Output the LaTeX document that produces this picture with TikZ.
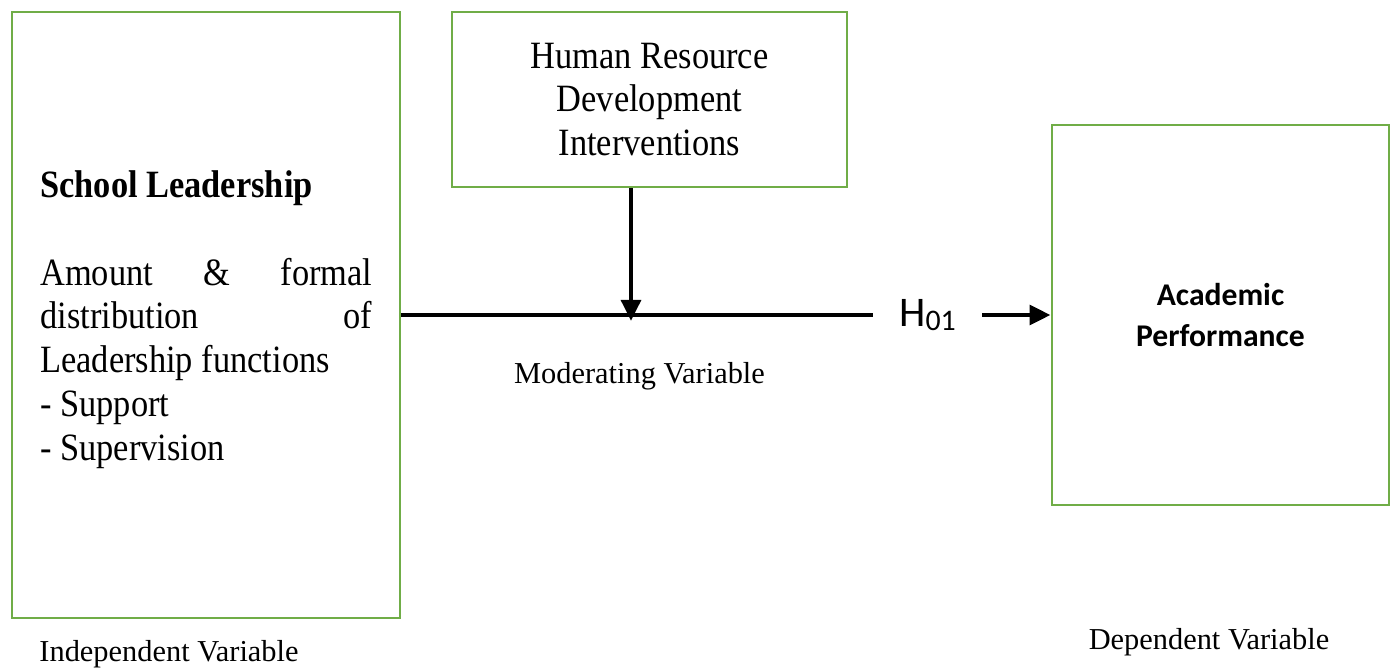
\documentclass[tikz,border=0pt]{standalone}
\usepackage{fontspec}
\setmainfont{Liberation Serif}[FakeStretch=0.89]
\newfontfamily\calibri{Carlito}
\newfontfamily\plainserif{Liberation Serif}
\usepackage{xcolor}
\usetikzlibrary{arrows.meta}
\definecolor{boxgreen}{RGB}{112,173,71}
\tikzset{ var_box/.style = {rectangle, draw=boxgreen, line width=1.6pt, inner sep=0pt} }
\tikzset{ link/.style = {line width=2.8pt} }
\tikzset{ var_label/.style = {anchor=base, inner sep=0pt, font=\plainserif\fontsize{17.3}{20}\selectfont} }

\begin{document}
\begin{tikzpicture}[x=0.02cm, y=-0.02cm]
    \useasboundingbox (0,0) rectangle (1390,670);
    \node[var_box, minimum width=7.76cm, minimum height=12.12cm] (indep) at (206,315) {};
    \node[var_box, minimum width=7.9cm, minimum height=3.5cm, align=center, font=\fontsize{22}{25}\selectfont] (hrd) at (649.5,99.5) {Human Resource\\Development\\Interventions};
    \node[var_box, minimum width=6.74cm, minimum height=7.6cm, align=center, font=\calibri\bfseries\fontsize{18}{23}\selectfont] (perf) at (1220.5,315) {Academic\\Performance};
    \node[anchor=base west, inner sep=0pt, font=\bfseries\fontsize{22}{25}\selectfont] (title) at (40,197) {School Leadership};
    \node[anchor=base west, inner sep=0pt, font=\fontsize{22}{25}\selectfont] (dims) at (40,285) {\parbox[t]{6.64cm}{\raggedright
        \hbox to 6.64cm{Amount\hfill\&\hfill formal}
        \hbox to 6.64cm{distribution\hfill of}
        Leadership functions\\- Support\\- Supervision}};
    \coordinate (mod) at (631,321);
    \node[inner sep=0pt, minimum width=2.18cm, font=\calibri\fontsize{24}{28}\selectfont] (hyp) at (927.5,315) {H\raisebox{-0.2ex}{\fontsize{17}{17}\selectfont 01}};
    \draw[link] (indep) -- (hyp);
    \draw[link, -{Triangle[length=12pt,width=11pt]}] (hrd.south -| mod) -- (mod);
    \draw[link, -{Triangle[length=12pt,width=11pt]}] (hyp) -- (perf);
    \node[var_label] (modlab) at (639.5,383) {Moderating Variable};
    \node[var_label] (indlab) at (169,661) {Independent Variable};
    \node[var_label] (deplab) at (1209,649) {Dependent Variable};
\end{tikzpicture}
\end{document}
